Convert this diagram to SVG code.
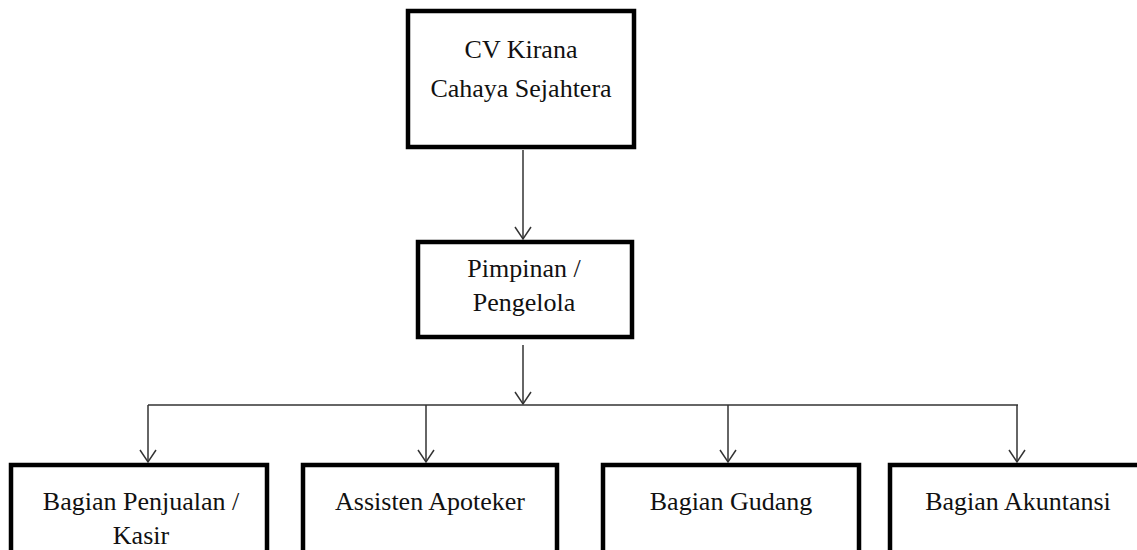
<svg xmlns="http://www.w3.org/2000/svg" width="1137" height="550" viewBox="0 0 1137 550">
<style>
.box{fill:#fff;stroke:#000;stroke-width:4.5}
.t{font-family:"Liberation Serif","Times New Roman",serif;font-size:26px;fill:#111;text-anchor:middle}
.c{fill:none;stroke:#333;stroke-width:1.5}
</style>
<rect width="1137" height="550" fill="#fff"/>
<g id="connectors">
<line class="c" x1="523" y1="150" x2="523" y2="239"/>
<path class="c" d="M515,227 L523,239 L531,227"/>
<line class="c" x1="523" y1="345" x2="523" y2="404"/>
<path class="c" d="M515,392 L523,404 L531,392"/>
<line class="c" x1="148" y1="405" x2="1018" y2="405"/>
<line class="c" x1="148" y1="405" x2="148" y2="462"/>
<path class="c" d="M140,450 L148,462 L156,450"/>
<line class="c" x1="426" y1="405" x2="426" y2="462"/>
<path class="c" d="M418,450 L426,462 L434,450"/>
<line class="c" x1="728" y1="405" x2="728" y2="462"/>
<path class="c" d="M720,450 L728,462 L736,450"/>
<line class="c" x1="1017" y1="405" x2="1017" y2="462"/>
<path class="c" d="M1009,450 L1017,462 L1025,450"/>
</g>
<g id="n-cv">
<rect class="box" x="408" y="11" width="226" height="136"/>
<text class="t" x="521" y="58">CV Kirana</text>
<text class="t" x="521" y="97">Cahaya Sejahtera</text>
</g>
<g id="n-pimpinan">
<rect class="box" x="418" y="242" width="214" height="95"/>
<text class="t" x="524" y="277">Pimpinan /</text>
<text class="t" x="524" y="311">Pengelola</text>
</g>
<g id="n-penjualan">
<rect class="box" x="11" y="465" width="256" height="100"/>
<text class="t" x="141" y="510">Bagian Penjualan /</text>
<text class="t" x="141" y="544">Kasir</text>
</g>
<g id="n-asisten">
<rect class="box" x="303" y="465" width="254" height="100"/>
<text class="t" x="430" y="510">Assisten Apoteker</text>
</g>
<g id="n-gudang">
<rect class="box" x="603" y="465" width="256" height="100"/>
<text class="t" x="731" y="510">Bagian Gudang</text>
</g>
<g id="n-akuntansi">
<rect class="box" x="890" y="465" width="260" height="100"/>
<text class="t" x="1018" y="510">Bagian Akuntansi</text>
</g>
</svg>
